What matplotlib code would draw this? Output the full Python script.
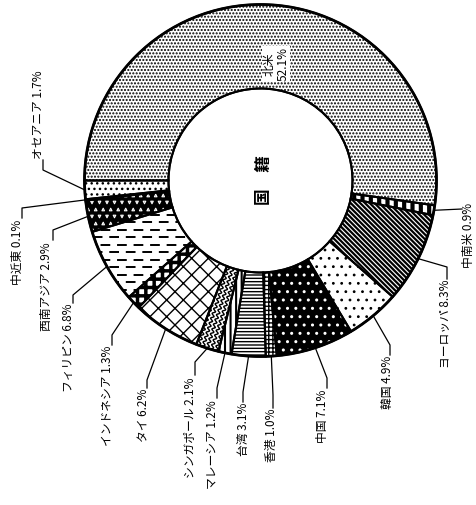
import numpy as np
import matplotlib
matplotlib.use('Agg')
import matplotlib.pyplot as plt
from matplotlib.patches import Circle

plt.rcParams['font.family'] = ['Noto Sans CJK JP', 'DejaVu Sans']

# ---------------- data ----------------
categories = ['北米', '中南米', 'ヨーロッパ', '韓国', '中国', '香港', '台湾',
              'マレーシア', 'シンガポール', 'タイ', 'インドネシア', 'フィリピン',
              '西南アジア', '中近東', 'オセアニア']
shares = [52.1, 0.9, 8.3, 4.9, 7.1, 1.0, 3.1, 1.2, 2.1, 6.2, 1.3, 6.8, 2.9, 0.1, 1.7]
center_title = '国　籍'

# ---------------- layout / style ----------------
W, H = 477, 505
CX, CY = 260.5, 180.5
R_OUT, R_IN = 176, 92

# face, hatch colour, hatch, hatch linewidth
styles = [
    ('white', 'black', '.....', 1.0),   # 北米
    ('white', 'black', '||', 3.0),      # 中南米
    ('white', 'black', '\\' * 7, 1.6),  # ヨーロッパ
    ('white', 'black', '..', 0.8),      # 韓国
    ('black', 'white', '..', 1.0),      # 中国
    ('white', 'black', '++++', 1.0),    # 香港
    ('white', 'black', '-----', 1.0),   # 台湾
    ('white', 'black', '|||', 1.5),     # マレーシア
    ('white', 'black', '', 1.0),        # シンガポール (waves)
    ('white', 'black', 'xx', 1.0),      # タイ
    ('white', 'black', '++', 2.5),      # インドネシア
    ('white', 'black', '', 1.0),        # フィリピン (dashes)
    ('black', 'white', '', 1.0),        # 西南アジア (chevrons)
    ('white', 'black', '', 1.0),        # 中近東
    ('white', 'black', '...', 1.0),     # オセアニア
]

# text x, text y, va, elbow x, elbow y, end x, end y  (pixel layout)
label_layout = {
    '中南米':     (469, 203, 'top', 462, 209, 462, 209),
    'ヨーロッパ':  (445, 280, 'top', 447, 267, 447, 279),
    '韓国':       (388, 356, 'top', 390, 345, 390, 355),
    '中国':       (323, 390, 'top', 327, 378, 327, 388),
    '香港':       (272, 409, 'top', 273, 395, 273, 408),
    '台湾':       (243, 403, 'top', 243, 392, 243, 402),
    'マレーシア':  (212, 400, 'top', 217, 388, 217, 398),
    'シンガポール': (190, 377, 'top', 195, 362, 195, 375),
    'タイ':       (144, 389, 'top', 147, 380, 147, 388),
    'インドネシア': (107, 346, 'top', 112, 335, 112, 345),
    'フィリピン':  (69, 304, 'top', 73, 295, 73, 303),
    '西南アジア':  (47, 242, 'top', 53, 230, 53, 240),
    '中近東':     (17, 220, 'top', 22, 208, 22, 218),
    'オセアニア':  (38, 159, 'bottom', 43, 170, 43, 160),
}

fig = plt.figure(figsize=(W / 100, H / 100), dpi=100)
ax = fig.add_axes([0, 0, 1, 1])

wedges, _ = ax.pie(shares, startangle=180, counterclock=True, center=(CX, CY),
                   radius=R_OUT, wedgeprops=dict(width=R_OUT - R_IN, linewidth=0))
for w, (fc, hc, h, hlw) in zip(wedges, styles):
    w.set_facecolor(fc)
    w.set_edgecolor(hc)
    w.set_linewidth(0)
    w.set_hatch(h)
    if hasattr(w, 'set_hatch_linewidth'):
        w.set_hatch_linewidth(hlw)

idx = {c: i for i, c in enumerate(categories)}

# dashes for フィリピン
wp = wedges[idx['フィリピン']]
for k, y in enumerate(np.arange(CY - R_OUT, CY + R_OUT, 7.5)):
    ln, = ax.plot([CX - R_OUT, CX + R_OUT], [y, y], color='black', lw=1.4,
                  linestyle=((k % 2) * 4.0, (5.0, 3.5)), solid_capstyle='butt')
    ln.set_clip_path(wp)

# waves for シンガポール
ws = wedges[idx['シンガポール']]
tm = np.deg2rad((ws.theta1 + ws.theta2) / 2)
u = np.array([np.cos(tm), np.sin(tm)])
v = np.array([-np.sin(tm), np.cos(tm)])
s = np.linspace(R_IN - 8, R_OUT + 8, 300)
for k in range(-7, 8):
    off = k * 4.5 + 1.4 * np.sin(2 * np.pi * s / 5.0)
    px = CX + s * u[0] + off * v[0]
    py = CY + s * u[1] + off * v[1]
    ln, = ax.plot(px, py, color='black', lw=1.0)
    ln.set_clip_path(ws)

# chevrons for 西南アジア
wa = wedges[idx['西南アジア']]
gx = np.arange(CX - R_OUT, CX - R_OUT + 110, 7.5)
gy = np.arange(CY - 20, CY + 70, 7.0)
for j, y in enumerate(gy):
    xs = gx + (j % 2) * 3.7
    sc = ax.scatter(xs, np.full_like(xs, y), marker='^' if j % 2 else 'v',
                    s=3.5, facecolor='none', edgecolor='white', linewidths=0.8)
    sc.set_clip_path(wa)

# outlines
ax.pie(shares, startangle=180, counterclock=True, center=(CX, CY), radius=R_OUT,
       wedgeprops=dict(width=R_OUT - R_IN, fill=False, edgecolor='black', linewidth=1.5))
ax.add_patch(Circle((CX, CY), R_OUT, fill=False, edgecolor='black', lw=2.0))
ax.add_patch(Circle((CX, CY), R_IN, fill=False, edgecolor='black', lw=1.4))

# labels
for w, cat, val in zip(wedges, categories, shares):
    if cat not in label_layout:
        continue
    tx, ty, va, ex, ey, fx, fy = label_layout[cat]
    tm = np.deg2rad((w.theta1 + w.theta2) / 2)
    ax0 = CX + R_OUT * np.cos(tm)
    ay0 = CY + R_OUT * np.sin(tm)
    ax.plot([ax0, ex, fx], [ay0, ey, fy], color='black', lw=0.9)
    ax.text(tx, ty, f'{cat} {val}%', rotation=90, ha='center', va=va, fontsize=8.5)

# 北米 label inside wedge
na = categories[0]
ax.text(276, 64, f'{na}\n{shares[0]}%', rotation=90, ha='center', va='center',
        fontsize=8.5, linespacing=1.1,
        bbox=dict(facecolor='white', edgecolor='none', pad=0.5))

ax.text(CX + 4, CY, center_title, rotation=90, ha='center', va='center',
        fontsize=12, fontweight='bold')

ax.set_xlim(0, W)
ax.set_ylim(H, 0)
ax.set_aspect('equal')
ax.axis('off')
fig.savefig('out.png', dpi=100)
